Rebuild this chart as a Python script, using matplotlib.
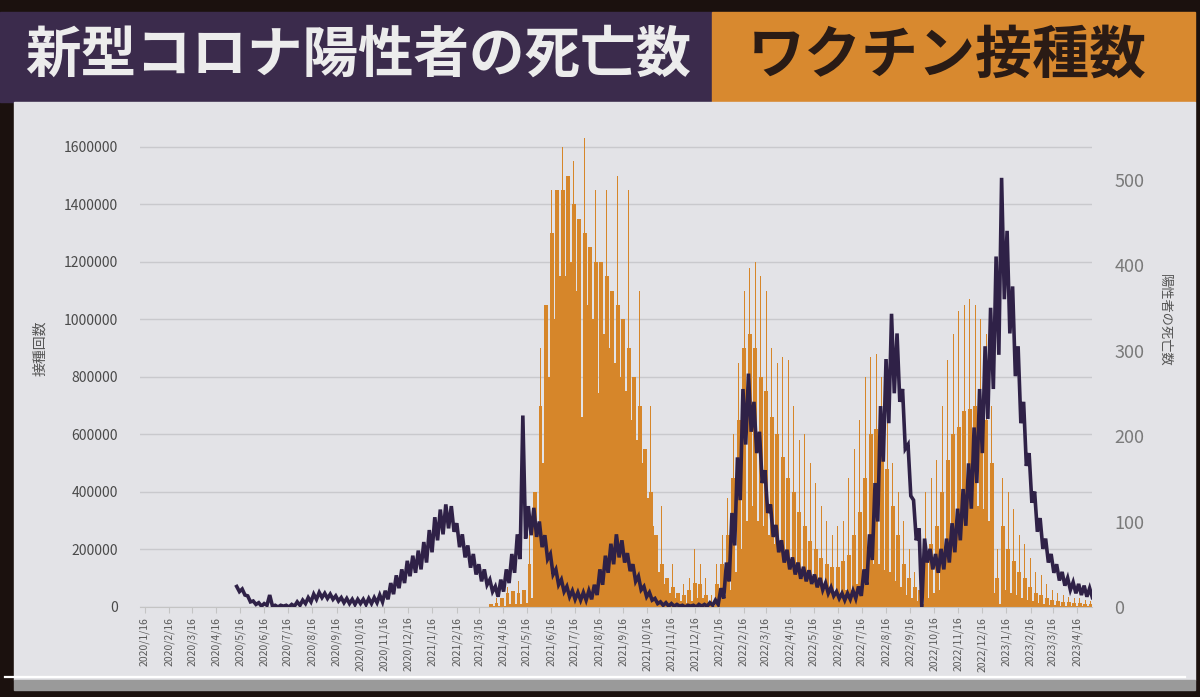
import numpy as np
import pandas as pd
import matplotlib.pyplot as plt
import matplotlib.dates as mdates
from matplotlib.patches import Rectangle

plt.rcParams['font.family'] = ['Noto Sans CJK JP', 'DejaVu Sans']

# deaths per day, weekly high / low (weeks starting 2020-05-11)
death_start = "2020-05-11"
deaths_hi = [24, 21, 13, 7, 5, 4, 14, 2, 2, 2, 3, 6, 8, 11, 15, 17, 16, 15, 13, 11,
             10, 9, 9, 9, 10, 11, 14, 19, 28, 37, 44, 54, 60, 66, 76, 90, 105, 114, 120, 118,
             98, 85, 72, 62, 50, 44, 32, 24, 32, 44, 62, 85, 224, 118, 116, 100, 84, 62, 44, 32,
             24, 19, 17, 17, 19, 26, 44, 60, 74, 85, 78, 63, 50, 36, 24, 17, 10, 6, 5, 4,
             3, 2, 2, 2, 3, 3, 5, 8, 22, 52, 110, 175, 255, 273, 240, 205, 160, 120, 96, 78,
             67, 58, 52, 47, 43, 38, 34, 28, 23, 18, 16, 16, 19, 24, 44, 85, 145, 235, 290, 343,
             320, 255, 190, 125, 92, 80, 68, 62, 68, 80, 98, 115, 138, 168, 210, 255, 305, 350, 410, 502,
             440, 375, 305, 240, 180, 135, 104, 80, 62, 50, 41, 34, 29, 27, 25, 22]
deaths_lo = [18, 14, 6, 3, 1, 2, 1, 0, 1, 0, 1, 2, 4, 6, 9, 11, 10, 9, 7, 5,
             4, 3, 4, 3, 4, 5, 6, 9, 15, 22, 28, 36, 40, 44, 52, 64, 78, 85, 92, 88,
             70, 58, 46, 38, 30, 26, 18, 12, 18, 28, 40, 56, 80, 84, 82, 70, 56, 38, 26, 18,
             12, 9, 8, 8, 9, 14, 26, 40, 50, 58, 52, 42, 30, 20, 12, 8, 4, 2, 1, 1,
             1, 0, 1, 0, 1, 1, 2, 3, 10, 30, 72, 125, 190, 205, 180, 145, 110, 82, 64, 52,
             44, 38, 33, 30, 27, 23, 20, 16, 13, 10, 8, 9, 10, 13, 26, 55, 100, 170, 215, 250,
             240, 185, 130, 78, 0, 52, 44, 40, 44, 52, 64, 78, 95, 115, 145, 180, 220, 255, 295, 360,
             320, 270, 215, 165, 122, 88, 68, 52, 40, 31, 25, 20, 16, 14, 12, 11]

# vaccinations per day in thousands, weekly level / peak day / weekend low (weeks starting 2021-03-29)
vax_start = "2021-03-29"
vax_level_k = [10, 15, 30, 50, 55, 50, 60, 150, 400, 700, 1050, 1300, 1450, 1450, 1500, 1400, 1350, 1300, 1250, 1200,
               1200, 1150, 1100, 1050, 1000, 900, 800, 700, 550, 400, 250, 150, 100, 70, 50, 40, 60, 85, 80, 40,
               15, 80, 150, 250, 450, 650, 900, 950, 900, 800, 750, 660, 600, 520, 450, 400, 330, 280, 230, 200,
               170, 150, 140, 140, 160, 180, 250, 330, 450, 600, 620, 550, 480, 350, 250, 150, 100, 70, 60, 160,
               220, 280, 400, 510, 600, 625, 680, 690, 700, 690, 650, 500, 100, 280, 200, 160, 120, 100, 70, 50,
               40, 30, 25, 20, 18, 16, 15, 14, 12, 10]
vax_peak_k = [20, 30, 50, 70, 80, 90, 100, 250, 550, 900, 1200, 1450, 1550, 1600, 1680, 1550, 1600, 1630, 1450, 1450,
              1300, 1450, 1500, 1500, 1400, 1450, 1250, 1100, 900, 700, 450, 350, 250, 150, 110, 80, 100, 200, 150, 100,
              40, 150, 250, 380, 600, 850, 1100, 1180, 1200, 1150, 1100, 900, 850, 870, 860, 700, 580, 600, 500, 430,
              350, 300, 250, 280, 300, 450, 550, 650, 800, 870, 880, 800, 740, 500, 400, 300, 200, 120, 100, 400,
              450, 510, 700, 860, 950, 1030, 1050, 1070, 1050, 1000, 950, 700, 200, 450, 400, 340, 250, 220, 170, 120,
              110, 80, 60, 50, 40, 35, 30, 30, 25, 20]
vax_low_k = [2, 3, 5, 10, 10, 10, 15, 30, 250, 500, 800, 1000, 1150, 1150, 1200, 1100, 660, 1050, 1000, 745,
             950, 900, 850, 800, 750, 650, 580, 500, 380, 280, 120, 80, 50, 30, 20, 15, 20, 30, 30, 10,
             5, 20, 40, 60, 120, 200, 300, 350, 300, 280, 250, 220, 200, 180, 150, 130, 100, 90, 80, 70,
             60, 50, 50, 50, 60, 60, 80, 100, 120, 150, 150, 130, 120, 90, 70, 40, 30, 20, 10, 30,
             50, 60, 200, 250, 300, 320, 340, 350, 350, 340, 300, 50, 10, 60, 50, 40, 30, 25, 20, 15,
             10, 8, 6, 5, 5, 4, 4, 3, 3, 3]

tick_dates = [pd.Timestamp(y, m, 16) for y in range(2020, 2024) for m in range(1, 13)
              if pd.Timestamp(y, m, 16) <= pd.Timestamp(2023, 4, 16)]
tick_labels = [f"{d.year}/{d.month}/{d.day}" for d in tick_dates]

purple = '#2f2147'
orange = '#d6862a'

def fy(y):
    return 1 - y / 697

fig = plt.figure(figsize=(12, 6.97), dpi=100, facecolor='#1b110e')

# background pieces of the slide
fig.add_artist(Rectangle((0, fy(102)), 712 / 1200, 90 / 697, transform=fig.transFigure,
                         color='#3b2b4c', zorder=-10))
fig.add_artist(Rectangle((712 / 1200, fy(102)), 483 / 1200, 90 / 697, transform=fig.transFigure,
                         color='#d8892f', zorder=-10))
fig.add_artist(Rectangle((14 / 1200, fy(680)), 1181 / 1200, 578 / 697, transform=fig.transFigure,
                         color='#e3e3e7', zorder=-10))
fig.add_artist(Rectangle((14 / 1200, fy(690)), 1181 / 1200, 10 / 697, transform=fig.transFigure,
                         color='#9a9a9a', zorder=-10))
fig.add_artist(plt.Line2D([5 / 1200, 1185 / 1200], [fy(677), fy(677)], transform=fig.transFigure,
                          color='white', lw=1.6, zorder=-5))

fig.text(25 / 1200, fy(56), "新型コロナ陽性者の死亡数", fontsize=40, fontweight='bold',
         color='#ececec', va='center', ha='left')
fig.text(748 / 1200, fy(56), "ワクチン接種数", fontsize=41, fontweight='bold',
         color='#2a1b15', va='center', ha='left')

ax = fig.add_axes([140 / 1200, fy(607), (1092 - 140) / 1200, (607 - 118) / 697])
ax.set_facecolor('none')

vw = mdates.date2num(pd.date_range(vax_start, periods=len(vax_level_k), freq="7D"))
ax.bar(vw, np.array(vax_level_k) * 1000, width=5, align='edge', color=orange, lw=0)
ax.bar(vw + 2, np.array(vax_peak_k) * 1000, width=1, align='edge', color=orange, lw=0)
ax.bar(vw + 5, np.array(vax_low_k) * 1000, width=2, align='edge', color=orange, lw=0)

ax.set_xlim(mdates.date2num(pd.Timestamp("2020-01-10")), mdates.date2num(pd.Timestamp("2023-05-05")))
ax.set_ylim(0, 1700000)
ax.set_yticks(range(0, 1600001, 200000))
ax.set_yticklabels([str(v) for v in range(0, 1600001, 200000)])
ax.yaxis.grid(True, color='#c9c9cd', lw=1)
ax.set_axisbelow(True)
ax.tick_params(axis='y', length=0, pad=16, labelsize=10, labelcolor='#4a4a4a')
ax.set_xticks(mdates.date2num(tick_dates))
ax.set_xticklabels(tick_labels, rotation=90)
ax.tick_params(axis='x', length=4, color='#c4c4c4', labelsize=7.5, labelcolor='#5a5a5a', pad=3)
for s in ['top', 'left', 'right']:
    ax.spines[s].set_visible(False)
ax.spines['bottom'].set_color('#c4c4c4')

ax2 = ax.twinx()
ax2.set_facecolor('none')
dw = mdates.date2num(pd.date_range(death_start, periods=len(deaths_hi), freq="7D"))
dx = np.column_stack([dw + 1, dw + 4.5]).ravel()
dy = np.column_stack([deaths_hi, deaths_lo]).ravel()
ax2.plot(dx, dy, color=purple, lw=2.6, solid_joinstyle='miter')
ax2.set_ylim(0, 572)
ax2.set_yticks(range(0, 501, 100))
ax2.tick_params(axis='y', length=0, pad=16, labelsize=13, labelcolor='#7a7a7a')
for s in ax2.spines.values():
    s.set_visible(False)

fig.text(40 / 1200, fy(348), "接種回数", rotation=90, fontsize=10, color='#555555',
         ha='center', va='center')
fig.text(1165 / 1200, fy(320), "陽性者の死亡数", rotation=270, fontsize=9.5, color='#555555',
         ha='center', va='center')

fig.savefig('out.png', dpi=100, facecolor=fig.get_facecolor())
